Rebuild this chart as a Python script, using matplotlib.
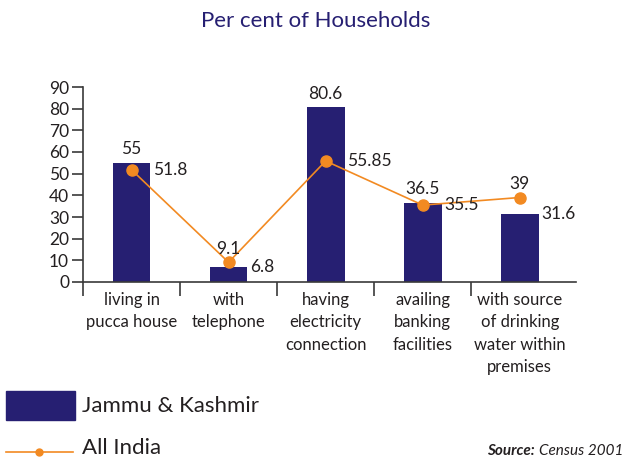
import numpy as np
import matplotlib
matplotlib.use("Agg")
import matplotlib.pyplot as plt
from matplotlib.patches import Rectangle
from matplotlib.lines import Line2D

# values
categories = ["living in\npucca house", "with\ntelephone", "having\nelectricity\nconnection",
              "availing\nbanking\nfacilities", "with source\nof drinking\nwater within\npremises"]
jk_values = [55, 6.8, 80.6, 36.5, 31.6]
india_values = [51.8, 9.1, 55.85, 35.5, 39]
jk_labels = ["55", "6.8", "80.6", "36.5", "31.6"]
india_labels = ["51.8", "9.1", "55.85", "35.5", "39"]

NAVY = "#261f72"
ORANGE = "#f28a22"
TEXT = "#231f20"
AXIS = "#3a3a3a"

plt.rcParams['font.family'] = ['Lato', 'DejaVu Sans']

fig = plt.figure(figsize=(6.26, 4.61), dpi=100)
ax = fig.add_axes([83/626, 1-282/461, (576-83)/626, (282-87)/461])

x = np.arange(len(categories))
bar_w = 0.39
ax.bar(x, jk_values, width=bar_w, color=NAVY, zorder=2)
ax.plot(x, india_values, color=ORANGE, lw=1.2, marker="o", ms=8, zorder=3)

# higher value labelled above, lower one to the right of the bar
for i in range(len(x)):
    if jk_values[i] >= india_values[i]:
        top_v, top_t, side_v, side_t = jk_values[i], jk_labels[i], india_values[i], india_labels[i]
    else:
        top_v, top_t, side_v, side_t = india_values[i], india_labels[i], jk_values[i], jk_labels[i]
    ax.annotate(top_t, (x[i], top_v), xytext=(0, 4), textcoords="offset points",
                ha="center", va="bottom", fontsize=12.5, color=TEXT)
    ax.annotate(side_t, (x[i] + bar_w/2, side_v), xytext=(2, 0), textcoords="offset points",
                ha="left", va="center", fontsize=12.5, color=TEXT)

ax.set_xlim(-0.5, 4.58)
ax.set_ylim(0, 90)
ax.set_yticks(range(0, 91, 10))
ax.tick_params(axis="y", length=8, width=1.2, color=AXIS, labelsize=12.5, labelcolor=TEXT, pad=2)

ax.set_xticks(x)
ax.set_xticklabels(categories, fontsize=12, color=TEXT, linespacing=1.5, va="top")
ax.tick_params(axis="x", which="major", length=0, pad=7)
ax.set_xticks(np.arange(-0.5, 4, 1), minor=True)
ax.tick_params(axis="x", which="minor", length=10, width=1.2, color=AXIS)

for s in ["top", "right"]:
    ax.spines[s].set_visible(False)
for s in ["left", "bottom"]:
    ax.spines[s].set_color(AXIS)
    ax.spines[s].set_linewidth(1.2)

fig.text(316/626, 1-21/461, "Per cent of Households", ha="center", va="center",
         fontsize=16, color=NAVY)

# legend
fig.patches.append(Rectangle((6/626, 1-420/461), 69/626, 29/461, transform=fig.transFigure,
                             color=NAVY))
fig.text(82/626, 1-406/461, "Jammu & Kashmir", ha="left", va="center", fontsize=16, color=TEXT)
fig.lines.append(Line2D([6/626, 73/626], [1-452/461, 1-452/461], transform=fig.transFigure,
                        color=ORANGE, lw=1.2))
fig.lines.append(Line2D([39/626], [1-452/461], transform=fig.transFigure, color=ORANGE,
                        marker="o", ms=5))
fig.text(82/626, 1-448/461, "All India", ha="left", va="center", fontsize=16, color=TEXT)

census = fig.text(623/626, 1-451/461, "Census 2001", ha="right", va="center", fontsize=11,
                  style="italic", color=TEXT)
ax.annotate("Source: ", xy=(0, 0.5), xycoords=census, ha="right", va="center", fontsize=11,
            style="italic", weight="bold", color=TEXT, annotation_clip=False)

fig.savefig("out.png", dpi=100)
